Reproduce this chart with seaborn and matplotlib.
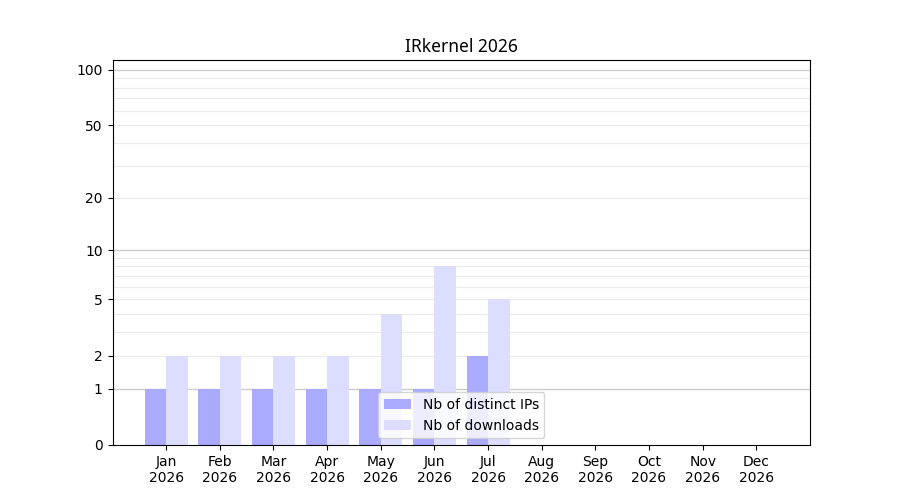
import numpy as np
import pandas as pd
import matplotlib
matplotlib.use("Agg")
import matplotlib.pyplot as plt
import seaborn as sns

# ----------------------------------------
# Data
# ----------------------------------------
months = ["Jan", "Feb", "Mar", "Apr", "May", "Jun",
          "Jul", "Aug", "Sep", "Oct", "Nov", "Dec"]
year = "2026"
distinct_ips = [1, 1, 1, 1, 1, 1, 2, 0, 0, 0, 0, 0]
downloads = [2, 2, 2, 2, 4, 8, 5, 0, 0, 0, 0, 0]
series_names = ["Nb of distinct IPs", "Nb of downloads"]
ytick_values = [0, 1, 2, 5, 10, 20, 50, 100]
major_grid = [1, 10, 100]
minor_grid = [2, 3, 4, 5, 6, 7, 8, 9, 20, 30, 40, 50, 60, 70, 80, 90]

labels = [f"{m}\n{year}" for m in months]
df = pd.DataFrame({
    "month": labels * 2,
    "value": distinct_ips + downloads,
    "series": [series_names[0]] * 12 + [series_names[1]] * 12,
})

# ----------------------------------------
# Plot
# ----------------------------------------
fig, ax = plt.subplots(figsize=(9, 5), dpi=100)

# log(1 + x) scale so that zero stays on the axis
ax.set_yscale("function", functions=(lambda v: np.log10(np.clip(v, 0, None) + 1),
                                     lambda v: 10 ** v - 1))

sns.barplot(data=df, x="month", y="value", hue="series", order=labels,
            palette=["#aaaaff", "#ddddff"], saturation=1, width=0.8,
            ax=ax, zorder=2)

for v in minor_grid:
    ax.axhline(v, color="#ebebeb", lw=0.8, zorder=0)
for v in major_grid:
    ax.axhline(v, color="#cccccc", lw=1.0, zorder=0)

ax.set_ylim(0, 113)
ax.set_xlim(-1, 12)
ax.set_yticks(ytick_values)
ax.set_yticklabels([str(v) for v in ytick_values])
ax.minorticks_off()
ax.set_xlabel("")
ax.set_ylabel("")
ax.set_title("IRkernel 2026", fontsize=12.5, fontfamily=["Noto Sans", "DejaVu Sans"])
ax.legend(loc="lower center")

fig.savefig("out.png", dpi=100)
